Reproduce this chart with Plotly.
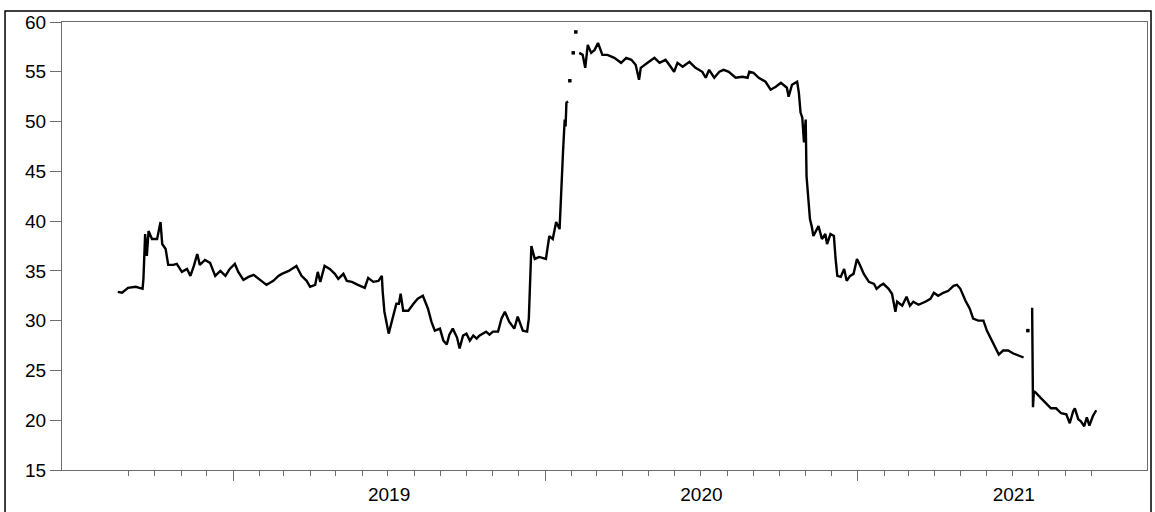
import pandas as pd
import plotly.graph_objects as go

# Daily observations (sampled), NaN marks missing days
obs_dates = [
    "2018-08-19", "2018-08-24", "2018-08-31", "2018-09-09", "2018-09-17", "2018-09-18", "2018-09-20", "2018-09-22", "2018-09-24", "2018-09-28",
    "2018-10-04", "2018-10-08", "2018-10-10", "2018-10-14", "2018-10-17", "2018-10-23", "2018-10-27",
    "2018-11-02", "2018-11-08", "2018-11-12", "2018-11-16", "2018-11-20", "2018-11-23", "2018-11-29",
    "2018-12-05", "2018-12-11", "2018-12-17", "2018-12-23", "2018-12-28",
    "2019-01-03", "2019-01-07", "2019-01-13", "2019-01-19", "2019-01-25", "2019-01-31",
    "2019-02-09", "2019-02-17", "2019-02-23", "2019-02-27",
    "2019-03-07", "2019-03-16", "2019-03-22", "2019-03-28",
    "2019-04-01", "2019-04-07", "2019-04-10", "2019-04-13", "2019-04-18", "2019-04-24", "2019-04-30",
    "2019-05-04", "2019-05-10", "2019-05-14", "2019-05-20", "2019-05-27",
    "2019-06-04", "2019-06-08", "2019-06-14", "2019-06-20", "2019-06-24", "2019-06-25", "2019-06-27",
    "2019-07-02", "2019-07-07", "2019-07-11", "2019-07-14", "2019-07-16", "2019-07-19", "2019-07-25", "2019-07-31",
    "2019-08-05", "2019-08-11", "2019-08-17", "2019-08-21", "2019-08-25", "2019-08-31",
    "2019-09-04", "2019-09-08", "2019-09-11", "2019-09-15", "2019-09-20", "2019-09-23", "2019-09-27",
    "2019-10-01", "2019-10-05", "2019-10-09", "2019-10-13", "2019-10-16", "2019-10-24", "2019-10-28",
    "2019-11-01", "2019-11-07", "2019-11-11", "2019-11-15", "2019-11-20", "2019-11-26", "2019-11-30",
    "2019-12-06", "2019-12-11", "2019-12-13", "2019-12-16", "2019-12-20", "2019-12-25",
    "2020-01-02", "2020-01-06", "2020-01-10", "2020-01-14", "2020-01-18", "2020-01-20", "2020-01-22", "2020-01-24",
    "2020-01-25", "2020-01-26", "2020-01-28", "2020-01-29", "2020-01-30", "2020-01-31",
    "2020-02-03", "2020-02-04", "2020-02-06", "2020-02-07", "2020-02-10", "2020-02-14", "2020-02-17", "2020-02-20", "2020-02-24", "2020-02-28",
    "2020-03-03", "2020-03-08", "2020-03-14", "2020-03-22", "2020-03-30",
    "2020-04-05", "2020-04-11", "2020-04-16", "2020-04-20", "2020-04-22", "2020-04-30",
    "2020-05-08", "2020-05-14", "2020-05-21", "2020-05-27", "2020-05-31",
    "2020-06-04", "2020-06-10", "2020-06-18", "2020-06-25",
    "2020-07-03", "2020-07-07", "2020-07-11", "2020-07-17", "2020-07-23", "2020-07-28",
    "2020-08-03", "2020-08-11", "2020-08-19", "2020-08-25", "2020-08-27",
    "2020-09-01", "2020-09-07", "2020-09-15", "2020-09-21", "2020-09-27",
    "2020-10-03", "2020-10-10", "2020-10-12", "2020-10-16", "2020-10-22", "2020-10-24", "2020-10-26", "2020-10-28", "2020-10-30",
    "2020-11-01", "2020-11-02", "2020-11-04", "2020-11-06", "2020-11-08", "2020-11-10", "2020-11-16", "2020-11-20", "2020-11-24",
    "2020-11-26", "2020-11-30",
    "2020-12-04", "2020-12-06", "2020-12-08", "2020-12-12", "2020-12-16", "2020-12-19", "2020-12-23", "2020-12-27", "2020-12-31",
    "2021-01-04", "2021-01-08", "2021-01-14", "2021-01-20", "2021-01-23", "2021-01-27", "2021-01-31",
    "2021-02-06", "2021-02-10", "2021-02-14", "2021-02-16", "2021-02-22", "2021-02-27",
    "2021-03-03", "2021-03-07", "2021-03-13", "2021-03-21", "2021-03-27", "2021-03-31",
    "2021-04-05", "2021-04-11", "2021-04-17", "2021-04-23", "2021-04-27",
    "2021-05-01", "2021-05-07", "2021-05-12", "2021-05-16", "2021-05-22", "2021-05-28",
    "2021-06-01", "2021-06-07", "2021-06-11", "2021-06-15", "2021-06-20", "2021-06-26",
    "2021-07-02", "2021-07-08", "2021-07-14", "2021-07-15", "2021-07-19", "2021-07-20", "2021-07-24", "2021-07-25", "2021-07-26", "2021-07-28",
    "2021-08-03", "2021-08-09", "2021-08-15", "2021-08-21", "2021-08-27",
    "2021-09-02", "2021-09-06", "2021-09-10", "2021-09-12", "2021-09-16", "2021-09-19", "2021-09-23", "2021-09-26", "2021-09-29",
    "2021-10-03", "2021-10-07",
]

NA = None
obs_values = [
    32.9, 32.8, 33.3, 33.4, 33.2, 34.2, 38.7, 36.5, 39.0, 38.2,
    38.2, 39.9, 37.7, 37.2, 35.6, 35.6, 35.7,
    34.9, 35.2, 34.5, 35.5, 36.7, 35.6, 36.1,
    35.8, 34.5, 35.0, 34.5, 35.2,
    35.7, 34.9, 34.1, 34.4, 34.6, 34.2,
    33.6, 34.0, 34.5, 34.7,
    35.0, 35.5, 34.5, 34.0,
    33.4, 33.6, 34.9, 33.9, 35.5, 35.2, 34.7,
    34.2, 34.7, 34.0, 33.9, 33.6,
    33.3, 34.3, 33.9, 34.0, 34.5, 32.9, 30.9,
    28.7, 30.5, 31.7, 31.7, 32.7, 31.0, 31.0, 31.7,
    32.2, 32.5, 31.2, 29.9, 29.0, 29.2,
    28.0, 27.6, 28.6, 29.2, 28.3, 27.2, 28.5,
    28.7, 28.0, 28.5, 28.2, 28.5, 28.9, 28.6,
    28.9, 28.9, 30.2, 30.9, 29.9, 29.2, 30.4,
    29.0, 28.9, 30.2, 37.5, 36.2, 36.4,
    36.2, 38.5, 38.2, 39.9, 39.2, 43.5, 46.9, 50.2,
    49.5, 51.9, 52.0, NA, 54.1, NA,
    56.9, NA, 59.0, NA, 56.9, 56.7, 55.4, 57.7, 56.9, 57.2,
    57.9, 56.7, 56.7, 56.4, 55.9,
    56.4, 56.2, 55.7, 54.2, 55.4, 55.9,
    56.4, 55.9, 56.2, 55.5, 55.0,
    55.9, 55.5, 56.0, 55.4,
    55.0, 54.4, 55.2, 54.4, 55.0, 55.2,
    55.0, 54.4, 54.5, 54.4, 55.0,
    54.9, 54.4, 54.0, 53.2, 53.5,
    53.9, 53.4, 52.5, 53.7, 54.0, 52.9, 50.9, 50.4, 47.9,
    50.2, 44.5, 41.9, 40.2, 39.5, 38.5, 39.5, 38.2, 38.7,
    37.7, 38.7,
    38.5, 36.2, 34.5, 34.4, 35.2, 34.0, 34.5, 34.7, 36.2,
    35.5, 34.7, 33.9, 33.7, 33.2, 33.5, 33.7,
    33.2, 32.7, 30.9, 31.9, 31.5, 32.4,
    31.5, 31.9, 31.6, 31.9, 32.2, 32.8,
    32.5, 32.8, 33.0, 33.5, 33.6,
    33.2, 32.0, 31.2, 30.2, 30.0, 30.0,
    29.0, 27.9, 27.2, 26.6, 27.0, 27.0,
    26.7, 26.5, 26.3, NA, 29.0, NA, 31.3, 21.3, 22.9, 22.8,
    22.25, 21.7, 21.2, 21.2, 20.7,
    20.6, 19.7, 20.9, 21.2, 20.1, 19.9, 19.4, 20.3, 19.45,
    20.4, 21.0,
]

year_labels = ["2019", "2020", "2021"]

assert len(obs_dates) == len(obs_values)

series = pd.Series(obs_values, index=pd.to_datetime(obs_dates), dtype=float)
valid = series.notna()
# single observations surrounded by missing days are shown as dots
isolated = valid & ~valid.shift(1, fill_value=False) & ~valid.shift(-1, fill_value=False)

year_starts = pd.to_datetime([f"{y}-01-01" for y in year_labels])
year_mids = [s + (pd.Timestamp(f"{s.year + 1}-01-01") - s) / 2 for s in year_starts]
month_ticks = pd.date_range(series.index[0].to_period("M").to_timestamp() + pd.offsets.MonthBegin(1),
                            series.index[-1], freq="MS")

x_range = ["2018-06-14 17:00", "2021-12-05 10:00"]
axis_col = "#6e6e6e"
font = dict(family="Liberation Sans, Arial, sans-serif", size=19, color="black")

fig = go.Figure()
fig.add_trace(go.Scatter(
    x=series.index, y=series.values, mode="lines",
    line=dict(color="black", width=2.4), connectgaps=False,
    showlegend=False, hoverinfo="x+y",
))
fig.add_trace(go.Scatter(
    x=series.index[isolated], y=series[isolated].values, mode="markers",
    marker=dict(symbol="square", size=3.5, color="black"),
    showlegend=False,
))
# carrier trace for the year-label axis
fig.add_trace(go.Scatter(x=[], y=[], xaxis="x2", yaxis="y", showlegend=False))

fig.update_layout(
    width=1155, height=512,
    margin=dict(l=62, r=7, t=22, b=39),
    paper_bgcolor="white", plot_bgcolor="white",
    font=font,
    xaxis=dict(
        type="date", range=x_range,
        tickmode="array", tickvals=list(year_starts), showticklabels=False,
        ticks="outside", ticklen=10, tickwidth=1, tickcolor=axis_col,
        minor=dict(tickmode="array", tickvals=list(month_ticks), ticks="outside",
                   ticklen=5, tickwidth=1, tickcolor=axis_col, showgrid=False),
        showline=True, linecolor=axis_col, linewidth=1, mirror=True,
        showgrid=False, zeroline=False,
    ),
    xaxis2=dict(
        type="date", range=x_range, overlaying="x", anchor="y", side="bottom",
        tickmode="array", tickvals=year_mids, ticktext=year_labels,
        ticks="outside", ticklen=7, tickcolor="rgba(0,0,0,0)",
        showline=False, showgrid=False, zeroline=False, tickfont=font,
    ),
    yaxis=dict(
        range=[15, 60], tick0=15, dtick=5,
        ticks="outside", ticklen=11, tickwidth=1, tickcolor=axis_col,
        showline=True, linecolor=axis_col, linewidth=1, mirror=True,
        showgrid=False, zeroline=False, tickfont=font,
    ),
    shapes=[dict(type="rect", xref="paper", yref="paper",
                 x0=-0.0525, x1=1.0037, y0=-0.2, y1=1.0244,
                 line=dict(color="black", width=1.5), fillcolor="rgba(0,0,0,0)", layer="below")],
)

fig.write_html("out.html")
